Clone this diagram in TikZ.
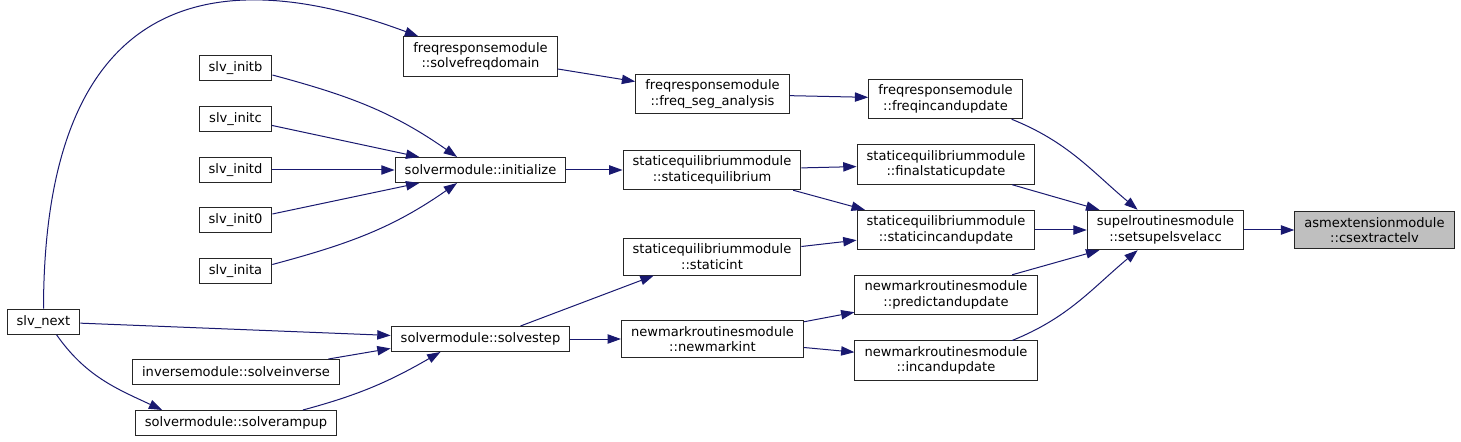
\documentclass[tikz,border=0pt]{standalone}
\usepackage{fontspec}
\setmainfont{DejaVu Sans}
\usetikzlibrary{arrows.meta}
\definecolor{edgeblue}{RGB}{25,25,112}
\definecolor{nodegray}{RGB}{191,191,191}

\begin{document}
\begin{tikzpicture}[x=0.75pt,y=-0.75pt,
    fn/.style={draw=black!85,line width=0.75pt,fill=white,align=center,inner xsep=7.2pt,inner ysep=4.3pt,minimum height=18.75pt,font=\fontsize{9.8}{11.5}\selectfont},
    hl/.style={fn,fill=nodegray},
    edge/.style={draw=edgeblue,line width=0.75pt,-{Triangle[length=10pt,width=7pt]}}
]
\path[use as bounding box,fill=white] (0,0) rectangle (1461,442);

\node[hl] (csextractelv) at (1374.5,230) {asmextensionmodule\\::csextractelv};
\node[fn] (setsupelsvelacc) at (1165.5,230) {supelroutinesmodule\\::setsupelsvelacc};

\node[fn] (freqincandupdate) at (945.5,99) {freqresponsemodule\\::freqincandupdate};
\node[fn] (finalstaticupdate) at (946,164.5) {staticequilibriummodule\\::finalstaticupdate};
\node[fn] (staticincandupdate) at (946,230) {staticequilibriummodule\\::staticincandupdate};
\node[fn] (predictandupdate) at (946,295) {newmarkroutinesmodule\\::predictandupdate};
\node[fn] (incandupdate) at (946,360.7) {newmarkroutinesmodule\\::incandupdate};

\node[fn] (freqseganalysis) at (712.5,94) {freqresponsemodule\\::freq\_seg\_analysis};
\node[fn] (staticequilibrium) at (712,170) {staticequilibriummodule\\::staticequilibrium};
\node[fn] (staticint) at (712,256.7) {staticequilibriummodule\\::staticint};
\node[fn] (newmarkint) at (712.5,339) {newmarkroutinesmodule\\::newmarkint};

\node[fn] (solvefreqdomain) at (480.5,56.5) {freqresponsemodule\\::solvefreqdomain};
\node[fn] (initialize) at (480.5,170) {solvermodule::initialize};
\node[fn] (solvestep) at (480.5,339) {solvermodule::solvestep};

\foreach \n/\y in {initb/68.5,initc/119,initd/170,init0/220.5,inita/271}
    \node[fn] (\n) at (235.5,\y) {slv\_\n};
\node[fn] (slvnext) at (43.5,321.7) {slv\_next};
\node[fn] (solveinverse) at (236,372) {inversemodule::solveinverse};
\node[fn] (solverampup) at (236,423) {solvermodule::solverampup};

% straight calls
\foreach \a/\b in {setsupelsvelacc/csextractelv,staticincandupdate/setsupelsvelacc,
    freqseganalysis/freqincandupdate,staticequilibrium/finalstaticupdate,
    staticint/staticincandupdate,newmarkint/predictandupdate,newmarkint/incandupdate,
    solvefreqdomain/freqseganalysis,initialize/staticequilibrium,solvestep/newmarkint,
    initd/initialize,slvnext/solvestep}
    \draw[edge] (\a) -- (\b);

\draw[edge] (freqincandupdate.-17) to[out=-22,in=140] (setsupelsvelacc.144);
\draw[edge] (finalstaticupdate.-17) -- (setsupelsvelacc.163);
\draw[edge] (predictandupdate.17) -- (setsupelsvelacc.197);
\draw[edge] (incandupdate.17) to[out=22,in=-140] (setsupelsvelacc.216);
\draw[edge] (staticequilibrium.-14) -- (staticincandupdate.166);
\draw[edge] (solvestep.18) -- (staticint.198);

\draw[edge] (initb.-10) to[out=-15,in=145] (initialize.151);
\draw[edge] (initc.-10) -- (initialize.168);
\draw[edge] (init0.10) -- (initialize.192);
\draw[edge] (inita.10) to[out=15,in=-145] (initialize.209);

\draw[edge] (slvnext.north) .. controls (44,-50) and (262,-22) .. (solvefreqdomain.162);
\draw[edge] (slvnext.-45) to[out=-55,in=155] (solverampup.170);
\draw[edge] (solveinverse.8) -- (solvestep.186);
\draw[edge] (solverampup.11) to[out=15,in=-150] (solvestep.198);
\end{tikzpicture}
\end{document}
